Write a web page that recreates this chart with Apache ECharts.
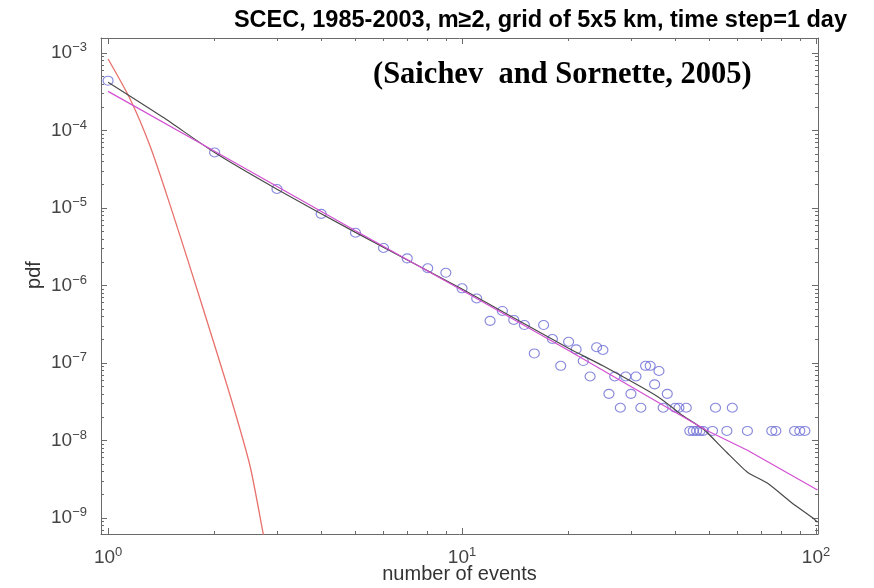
<!DOCTYPE html>
<html>
<head>
<meta charset="utf-8">
<script src="https://cdn.jsdelivr.net/npm/echarts@6/dist/echarts.min.js"></script>
<style>
html, body { margin: 0; padding: 0; background: #fff; }
#main { width: 874px; height: 588px; }
</style>
</head>
<body>
<div id="main"></div>
<script>
// observed pdf (blue circles)
const eventsX = [1, 2, 3, 4, 5, 6, 7, 8, 9, 10, 11, 12, 13, 14, 15, 16, 17, 18, 19, 20,
    21, 22, 23, 24, 25, 26, 27, 28, 29, 30, 31, 32, 33, 34, 35, 36, 37, 38, 40, 41,
    43, 44, 45, 46, 47, 48, 51, 52, 56, 58, 64, 75, 77, 87, 90, 93];
const pdfY = [4.4e-4, 5.2e-5, 1.76e-5, 8.4e-6, 4.8e-6, 3.05e-6, 2.24e-6, 1.67e-6, 1.46e-6, 9.2e-7,
    6.8e-7, 3.5e-7, 4.7e-7, 3.6e-7, 3.1e-7, 1.33e-7, 3.1e-7, 2.04e-7, 9.2e-8, 1.88e-7,
    1.5e-7, 1.06e-7, 6.7e-8, 1.6e-7, 1.47e-7, 4.0e-8, 6.7e-8, 2.65e-8, 6.7e-8, 4.0e-8,
    6.7e-8, 2.65e-8, 9.2e-8, 9.2e-8, 5.3e-8, 7.9e-8, 2.65e-8, 4.0e-8, 2.65e-8, 2.65e-8,
    2.65e-8, 1.33e-8, 1.33e-8, 1.33e-8, 1.33e-8, 1.33e-8, 1.33e-8, 2.65e-8, 1.33e-8, 2.65e-8,
    1.33e-8, 1.33e-8, 1.33e-8, 1.33e-8, 1.33e-8, 1.33e-8];

// model curve (black)
const modelX = [1, 1.43, 2, 3, 5, 10, 20, 25, 36, 42, 47, 49, 56, 64, 73, 85, 98, 101];
const modelY = [4.2e-4, 1.48e-4, 5.2e-5, 1.75e-5, 4.85e-6, 9.0e-7, 1.55e-7, 9.2e-8, 3.6e-8, 2.1e-8,
    1.5e-8, 1.3e-8, 7.0e-9, 3.9e-9, 2.8e-9, 1.6e-9, 1.0e-9, 8.8e-10];

// power law fit (magenta)
const powerX = [1, 2, 5, 10, 20, 49, 64, 101];
const powerY = [3.2e-4, 5.4e-5, 5.1e-6, 8.7e-7, 1.45e-7, 1.36e-8, 7.5e-9, 2.3e-9];

// Poisson reference (red)
const poissonX = [1, 1.154, 1.314, 1.497, 1.704, 1.942, 2.24, 2.518, 2.741, 2.795];
const poissonY = [8.37e-4, 2.55e-4, 6.3e-5, 1.09e-5, 1.73e-6, 2.59e-7, 3.14e-8, 4.69e-9, 6.4e-10, 4.1e-10];

// tick values
const xMajor = [1, 10, 100];
const xMinor = [2, 3, 4, 5, 6, 7, 8, 9, 20, 30, 40, 50, 60, 70, 80, 90];
const yMajor = [1e-9, 1e-8, 1e-7, 1e-6, 1e-5, 1e-4, 1e-3];
const yMinor = [7e-10, 8e-10, 9e-10];
yMajor.forEach(function (d) {
    if (d < 1e-3) {
        for (let k = 2; k <= 9; k++) yMinor.push(+(k * d).toPrecision(2));
    }
});

const X_MIN = 0.955, X_MAX = 101.3;
const Y_MIN = 6.22e-10, Y_MAX = 1.563e-3;

function zip(xs, ys) {
    return xs.map(function (x, i) { return [x, ys[i]]; });
}

function powLabel(v) {
    const e = Math.round(Math.log10(v));
    return '{b|10}{e|' + (e < 0 ? '\u2212' + (-e) : e) + '}';
}

const labelRich = {
    b: { fontSize: 19, color: '#444', fontFamily: 'Liberation Sans', lineHeight: 24 },
    e: { fontSize: 13, color: '#444', fontFamily: 'Liberation Sans', verticalAlign: 'top', lineHeight: 12 }
};

const axisGray = '#6a6a6a';

function makeAxis(position, min, max, ticks, len, opts) {
    return Object.assign({
        type: 'log',
        position: position,
        min: min,
        max: max,
        splitLine: { show: false },
        minorTick: { show: false },
        axisLine: { show: true, onZero: false, lineStyle: { color: axisGray, width: 1 } },
        axisTick: { show: true, inside: true, length: len, customValues: ticks, lineStyle: { color: axisGray } },
        axisLabel: { show: false }
    }, opts || {});
}

const nameStyle = { fontSize: 20, color: '#333', fontFamily: 'Liberation Sans' };

const xAxes = [
    makeAxis('bottom', X_MIN, X_MAX, xMajor, 6, {
        axisLabel: { show: true, customValues: xMajor, formatter: powLabel, rich: labelRich, margin: 12 },
        name: 'number of events',
        nameLocation: 'middle',
        nameGap: 30,
        nameMoveOverlap: false,
        nameTextStyle: nameStyle
    }),
    makeAxis('bottom', X_MIN, X_MAX, xMinor, 3, { axisLine: { show: false } }),
    makeAxis('top', X_MIN, X_MAX, xMajor, 6),
    makeAxis('top', X_MIN, X_MAX, xMinor, 3, { axisLine: { show: false } })
];

const yAxes = [
    makeAxis('left', Y_MIN, Y_MAX, yMajor, 6, {
        axisLabel: { show: true, customValues: yMajor, formatter: powLabel, rich: labelRich, margin: 14 },
        name: 'pdf',
        nameLocation: 'middle',
        nameGap: 57,
        nameRotate: 90,
        nameMoveOverlap: false,
        nameTextStyle: Object.assign({}, nameStyle, { padding: [0, 0, 0, 22] })
    }),
    makeAxis('left', Y_MIN, Y_MAX, yMinor, 3, { axisLine: { show: false } }),
    makeAxis('right', Y_MIN, Y_MAX, yMajor, 6),
    makeAxis('right', Y_MIN, Y_MAX, yMinor, 3, { axisLine: { show: false } })
];

const myChart = echarts.init(document.getElementById('main'));

const option = {
    backgroundColor: '#fff',
    animation: false,
    title: [{
        text: 'SCEC, 1985-2003, m\u22652, grid of 5x5 km, time step=1 day',
        right: 22,
        top: 4,
        textStyle: { fontSize: 23.5, fontWeight: 'bold', color: '#000', fontFamily: 'Liberation Sans' }
    }, {
        text: '(Saichev  and Sornette, 2005)',
        left: 368,
        top: 55,
        textStyle: { fontSize: 30.5, fontWeight: 'bold', color: '#000', fontFamily: 'Liberation Serif' }
    }],
    grid: { left: 101, right: 56, top: 38, bottom: 54, containLabel: false, outerBoundsMode: 'none' },
    xAxis: xAxes,
    yAxis: yAxes,
    series: [{
        type: 'scatter',
        data: zip(eventsX, pdfY),
        symbol: 'circle',
        symbolSize: [10, 9],
        itemStyle: { color: 'transparent', borderColor: '#6a6ad6', borderWidth: 1.1 },
        z: 2
    }, {
        type: 'line',
        data: zip(poissonX, poissonY),
        smooth: 0.25,
        showSymbol: false,
        lineStyle: { color: '#e8716b', width: 1.3 },
        z: 3
    }, {
        type: 'line',
        data: zip(modelX, modelY),
        smooth: 0.2,
        showSymbol: false,
        lineStyle: { color: '#4a4a4a', width: 1.2 },
        z: 3
    }, {
        type: 'line',
        data: zip(powerX, powerY),
        showSymbol: false,
        lineStyle: { color: '#d24fd2', width: 1.2 },
        z: 4
    }]
};

myChart.setOption(option);
</script>
</body>
</html>
